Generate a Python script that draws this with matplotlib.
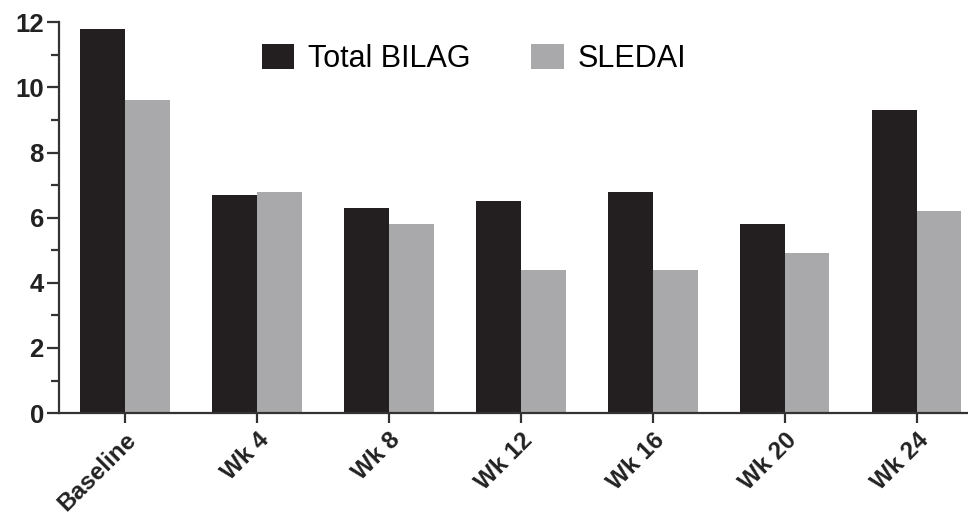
#Grouped bar chart: Total BILAG vs SLEDAI over visits

#imports
import matplotlib.pyplot as plt
import numpy as np

plt.rcParams['font.family'] = ['Liberation Sans', 'DejaVu Sans']

#data
visits = ['Baseline', 'Wk 4', 'Wk 8', 'Wk 12', 'Wk 16', 'Wk 20', 'Wk 24']
bilag = [11.8, 6.7, 6.3, 6.5, 6.8, 5.8, 9.3]
sledai = [9.6, 6.8, 5.8, 4.4, 4.4, 4.9, 6.2]

#set up figure
fig = plt.figure(figsize=(9.68, 5.17), dpi=100)
ax = fig.add_axes([0.061, 0.201, 0.939, 0.756])

x = np.arange(len(visits))
w = 0.34
ax.bar(x - w/2, bilag, w, color='#231f20', label='Total BILAG')
ax.bar(x + w/2, sledai, w, color='#a9a9ab', label='SLEDAI')

ax.set_xlim(-0.5, 6.39)
ax.set_ylim(0, 12)
ax.set_yticks(np.arange(0, 13, 2))
ax.set_yticks(np.arange(1, 12, 2), minor=True)
ax.set_xticks(x)
ax.set_xticklabels(visits, rotation=45, ha='right', rotation_mode='anchor',
                   fontsize=17.5, fontweight='bold', color='#222222')
for lbl in ax.get_yticklabels():
    lbl.set_fontsize(18.5)
    lbl.set_fontweight('bold')
    lbl.set_color('#222222')

ax.spines['top'].set_visible(False)
ax.spines['right'].set_visible(False)
ax.spines['left'].set_linewidth(1.6)
ax.spines['bottom'].set_linewidth(1.6)
ax.spines['left'].set_color('#333333')
ax.spines['bottom'].set_color('#333333')
ax.tick_params(axis='y', which='major', length=9, width=1.6, color='#333333', pad=2)
ax.tick_params(axis='y', which='minor', length=6, width=1.6, color='#333333')
ax.tick_params(axis='x', which='major', length=7, width=1.6, color='#333333', pad=4)

fig.legend(loc='upper left', bbox_to_anchor=(0.2707, 0.915), ncol=2, frameon=False,
           fontsize=22, handlelength=1.05, handleheight=0.85, handletextpad=0.45,
           columnspacing=2.0, borderpad=0, borderaxespad=0)

plt.savefig('out.png', dpi=100)
